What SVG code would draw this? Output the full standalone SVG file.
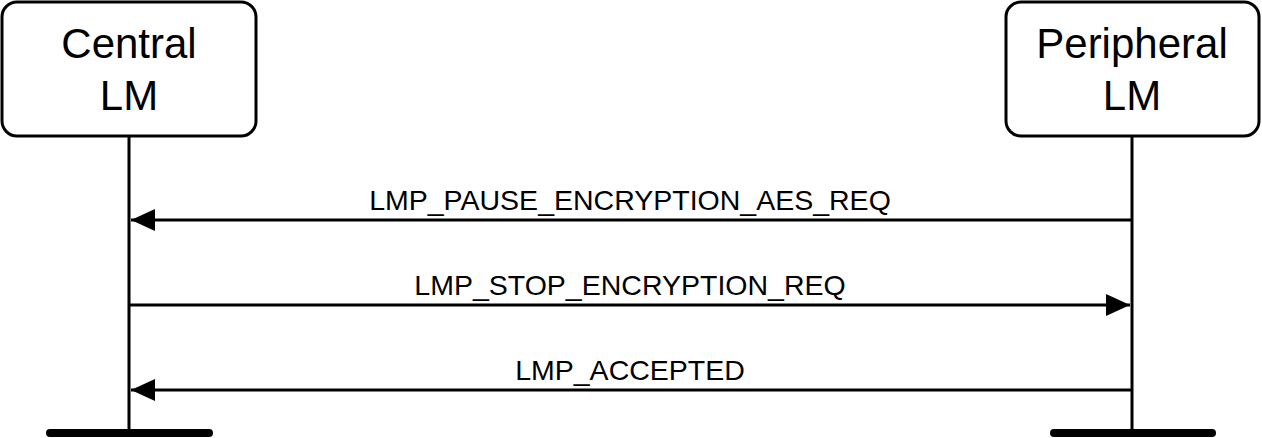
<svg xmlns="http://www.w3.org/2000/svg" width="1262" height="438" viewBox="0 0 1262 438">
<style>
.box{fill:#fff;stroke:#000;stroke-width:3}
.life{stroke:#000;stroke-width:3}
.bar{stroke:#000;stroke-width:8;stroke-linecap:round}
.t{font-family:"Liberation Sans",Arial,sans-serif;font-size:42px;text-anchor:middle}
.l{font-family:"Liberation Sans",Arial,sans-serif;font-size:28.5px;text-anchor:middle}
.msg{stroke:#000;stroke-width:3;marker-end:url(#ah)}
</style>
<defs><marker id="ah" markerUnits="userSpaceOnUse" markerWidth="26" markerHeight="24" refX="24" refY="11" orient="auto"><path d="M0,0 L24,11 L0,22 Z" fill="#000"/></marker></defs>
<rect width="1262" height="438" fill="#fff"/>
<g id="central"><rect class="box" x="2" y="2" width="254" height="134" rx="15"/><text class="t" x="129" y="58">Central</text><text class="t" x="129" y="110">LM</text><line class="life" x1="129" y1="136" x2="129" y2="433"/><line class="bar" x1="50" y1="433" x2="209" y2="433"/></g>
<g id="peripheral"><rect class="box" x="1006" y="2" width="253" height="134" rx="15"/><text class="t" x="1132" y="58">Peripheral</text><text class="t" x="1132" y="110">LM</text><line class="life" x1="1132" y1="136" x2="1132" y2="433"/><line class="bar" x1="1054" y1="433" x2="1212" y2="433"/></g>
<g id="connectors">
<line class="msg" x1="1132" y1="220" x2="131" y2="220"/><text class="l" x="630" y="210">LMP_PAUSE_ENCRYPTION_AES_REQ</text>
<line class="msg" x1="129" y1="305" x2="1130" y2="305"/><text class="l" x="630" y="295">LMP_STOP_ENCRYPTION_REQ</text>
<line class="msg" x1="1132" y1="390" x2="131" y2="390"/><text class="l" x="630" y="380">LMP_ACCEPTED</text>
</g>
</svg>
